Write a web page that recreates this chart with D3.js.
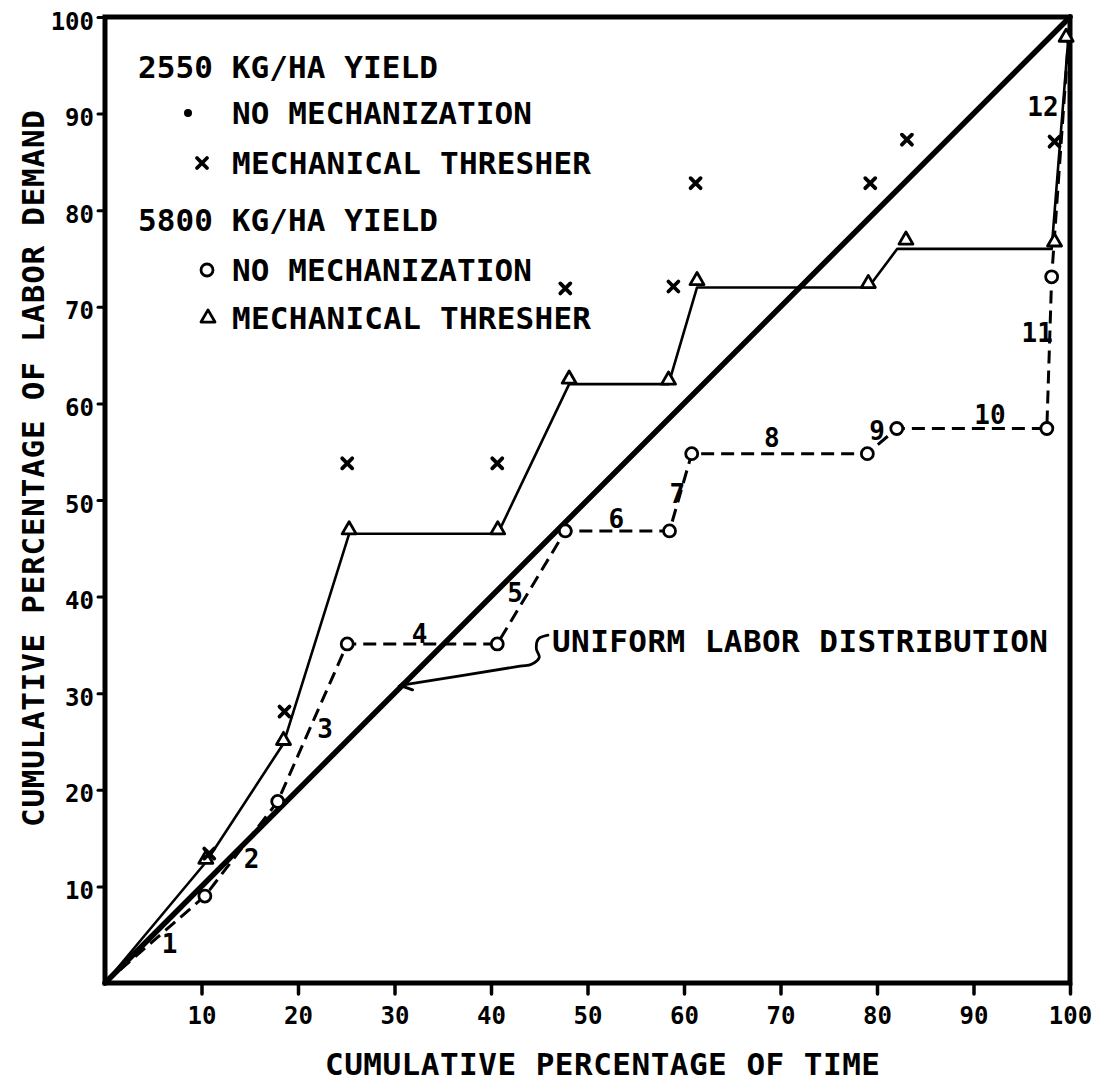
<!DOCTYPE html>
<html>
<head>
<meta charset="utf-8">
<script src="https://cdn.jsdelivr.net/npm/d3@7"></script>
<style>
  html, body { margin: 0; padding: 0; background: #fff; }
  svg { display: block; }
</style>
</head>
<body>
<svg id="chart" width="1098" height="1083"></svg>
<script>
// ---------------- DATA ----------------
const xTicks = [10, 20, 30, 40, 50, 60, 70, 80, 90, 100];
const yTicks = [10, 20, 30, 40, 50, 60, 70, 80, 90, 100];
const xTickLabels = ["10", "20", "30", "40", "50", "60", "70", "80", "90", "100"];
const yTickLabels = ["10", "20", "30", "40", "50", "60", "70", "80", "90", "100"];

// Uniform labor distribution (diagonal)
const uniformX = [0, 100];
const uniformY = [0, 100];

// 5800 kg/ha, no mechanization (open circles, dashed line)
const noMech5800X = [0, 10.35, 17.9, 25.1, 40.65, 47.7, 58.5, 60.8, 79.0, 82.05, 97.6, 98.1, 100];
const noMech5800Y = [0, 9.0, 18.8, 35.1, 35.1, 46.8, 46.8, 54.8, 54.8, 57.4, 57.4, 73.1, 100];

// 5800 kg/ha, mechanical thresher (open triangles, solid line)
const thresh5800X = [0, 10.45, 18.5, 25.3, 40.7, 48.1, 58.4, 61.35, 79.1, 82.1, 98.1, 100];
const thresh5800Y = [0, 12.5, 24.8, 46.5, 46.5, 62.0, 62.0, 72.0, 72.0, 76.0, 76.0, 100];
const thresh5800MarkX = [10.45, 18.5, 25.3, 40.7, 48.1, 58.4, 61.35, 79.1, 83.0, 98.4, 99.6];
const thresh5800MarkY = [12.5, 24.8, 46.6, 46.6, 62.2, 62.1, 72.4, 72.1, 76.6, 76.4, 97.6];

// 2550 kg/ha, mechanical thresher (x marks, no line)
const thresh2550X = [10.8, 18.6, 25.1, 40.65, 47.7, 58.9, 61.2, 79.3, 83.1, 98.4];
const thresh2550Y = [13.4, 28.1, 53.8, 53.8, 71.9, 72.1, 82.8, 82.8, 87.3, 87.1];

// Period numbers along the dashed curve
const periodLabels = ["1", "2", "3", "4", "5", "6", "7", "8", "9", "10", "11", "12"];
const periodX = [6.7, 15.2, 22.8, 32.6, 42.5, 53.0, 59.3, 69.1, 80.0, 91.7, 96.6, 97.2];
const periodY = [4.1, 12.9, 26.3, 36.2, 40.4, 48.1, 50.7, 56.5, 57.2, 58.8, 67.3, 90.7];

// Annotation arrow for the uniform line
const arrowX = [45.9, 44.9, 44.7, 45.0, 44.2, 43.0, 30.6];
const arrowY = [36.0, 35.6, 34.6, 33.7, 33.0, 32.8, 30.8];

const legendHeadings = ["2550 KG/HA YIELD", "5800 KG/HA YIELD"];
const legendItems = ["NO MECHANIZATION", "MECHANICAL THRESHER", "NO MECHANIZATION", "MECHANICAL THRESHER"];

const xTitle = "CUMULATIVE PERCENTAGE OF TIME";
const yTitle = "CUMULATIVE PERCENTAGE OF LABOR DEMAND";
const uniformLabel = "UNIFORM LABOR DISTRIBUTION";

// ---------------- DRAW ----------------
const FONT = "'DejaVu Sans Mono', 'Liberation Mono', monospace";
const svg = d3.select("#chart");
svg.append("rect").attr("width", 1098).attr("height", 1083).attr("fill", "#fff");

const x = d3.scaleLinear().domain([0, 100]).range([105, 1070]);
const y = d3.scaleLinear().domain([0, 100]).range([983, 17]);

const zip = (xs, ys) => xs.map((v, i) => [v, ys[i]]);
const line = d3.line().x(d => x(d[0])).y(d => y(d[1]));

// axes
const gx = svg.append("g").attr("transform", `translate(0,${y(0)})`)
  .call(d3.axisBottom(x).tickValues(xTicks).tickSize(11).tickPadding(13)
    .tickFormat((d, i) => xTickLabels[i]));
gx.select(".domain").remove();
gx.selectAll(".tick line").attr("stroke", "#000").attr("stroke-width", 3.5).attr("stroke-linecap", "round");
gx.selectAll(".tick text").attr("fill", "#000").style("font-family", FONT)
  .style("font-size", "24px").style("font-weight", "bold");

const gy = svg.append("g").attr("transform", `translate(${x(0)},0)`)
  .call(d3.axisLeft(y).tickValues(yTicks).tickSize(7).tickPadding(4)
    .tickFormat((d, i) => yTickLabels[i]));
gy.select(".domain").remove();
gy.selectAll(".tick line").attr("stroke", "#000").attr("stroke-width", 3).attr("stroke-linecap", "round");
gy.selectAll(".tick text").attr("fill", "#000").attr("dy", "0.5em").style("font-family", FONT)
  .style("font-size", "24px").style("font-weight", "bold");

// frame
svg.append("rect")
  .attr("x", x(0)).attr("y", y(100))
  .attr("width", x(100) - x(0)).attr("height", y(0) - y(100))
  .attr("fill", "none").attr("stroke", "#000").attr("stroke-width", 5);

// uniform diagonal
svg.append("path").datum(zip(uniformX, uniformY)).attr("d", line)
  .attr("fill", "none").attr("stroke", "#000").attr("stroke-width", 5.5).attr("stroke-linecap", "round");

// dashed no-mech 5800
svg.append("path").datum(zip(noMech5800X, noMech5800Y)).attr("d", line)
  .attr("fill", "none").attr("stroke", "#000").attr("stroke-width", 3)
  .attr("stroke-dasharray", "13,7");

// solid thresher 5800
svg.append("path").datum(zip(thresh5800X, thresh5800Y)).attr("d", line)
  .attr("fill", "none").attr("stroke", "#000").attr("stroke-width", 2.6)
  .attr("stroke-linejoin", "round");

// markers
const tri = d3.symbol().type(d3.symbolTriangle).size(85);
function drawTriangle(g, cx, cy) {
  g.append("path").attr("d", tri()).attr("transform", `translate(${cx},${cy - 3})`)
    .attr("fill", "#fff").attr("stroke", "#000").attr("stroke-width", 2.8).attr("stroke-linejoin", "round");
}
function drawCircle(g, cx, cy) {
  g.append("circle").attr("cx", cx).attr("cy", cy).attr("r", 6)
    .attr("fill", "#fff").attr("stroke", "#000").attr("stroke-width", 2.8);
}
function drawX(g, cx, cy) {
  const s = 5;
  g.append("path").attr("d", `M${cx - s},${cy - s}L${cx + s},${cy + s}M${cx - s},${cy + s}L${cx + s},${cy - s}`)
    .attr("stroke", "#000").attr("stroke-width", 3.8).attr("stroke-linecap", "round");
}

const mk = svg.append("g");
noMech5800X.forEach((v, i) => {
  if (i === 0 || i === noMech5800X.length - 1) return;
  drawCircle(mk, x(v), y(noMech5800Y[i]));
});
thresh5800MarkX.forEach((v, i) => drawTriangle(mk, x(v), y(thresh5800MarkY[i])));
thresh2550X.forEach((v, i) => drawX(mk, x(v), y(thresh2550Y[i])));

// period numbers
svg.append("g").selectAll("text").data(periodLabels).join("text")
  .attr("x", (d, i) => x(periodX[i])).attr("y", (d, i) => y(periodY[i]))
  .attr("dy", "0.36em").attr("text-anchor", "middle")
  .style("font-family", FONT).style("font-size", "26px").style("font-weight", "bold")
  .text(d => d);

// uniform annotation + arrow
const arrowPts = zip(arrowX, arrowY);
svg.append("path").datum(arrowPts)
  .attr("d", d3.line().x(d => x(d[0])).y(d => y(d[1])).curve(d3.curveCatmullRom))
  .attr("fill", "none").attr("stroke", "#000").attr("stroke-width", 2.8).attr("stroke-linecap", "round");
{
  const p1 = arrowPts[arrowPts.length - 2], p2 = arrowPts[arrowPts.length - 1];
  const tx = x(p2[0]), ty = y(p2[1]);
  const ang = Math.atan2(y(p1[1]) - ty, x(p1[0]) - tx);
  const L = 13, a = 0.5;
  svg.append("path")
    .attr("d", `M${tx + L * Math.cos(ang + a)},${ty + L * Math.sin(ang + a)}L${tx},${ty}L${tx + L * Math.cos(ang - a)},${ty + L * Math.sin(ang - a)}`)
    .attr("fill", "none").attr("stroke", "#000").attr("stroke-width", 3).attr("stroke-linecap", "round");
}
svg.append("text").attr("x", 552).attr("y", 652)
  .attr("textLength", 496).attr("lengthAdjust", "spacing")
  .style("font-family", FONT).style("font-size", "31px").style("font-weight", "bold")
  .text(uniformLabel);

// legend
const lg = svg.append("g").style("font-family", FONT).style("font-size", "31px").style("font-weight", "bold");
lg.append("text").attr("x", 138).attr("y", 78).attr("textLength", 300).attr("lengthAdjust", "spacing").text(legendHeadings[0]);
lg.append("circle").attr("cx", 188).attr("cy", 113).attr("r", 4);
lg.append("text").attr("x", 232).attr("y", 124).attr("textLength", 300).attr("lengthAdjust", "spacing").text(legendItems[0]);
drawX(lg, 202, 163);
lg.append("text").attr("x", 232).attr("y", 174).attr("textLength", 359).attr("lengthAdjust", "spacing").text(legendItems[1]);
lg.append("text").attr("x", 138).attr("y", 231).attr("textLength", 300).attr("lengthAdjust", "spacing").text(legendHeadings[1]);
drawCircle(lg, 207, 270);
lg.append("text").attr("x", 232).attr("y", 281).attr("textLength", 300).attr("lengthAdjust", "spacing").text(legendItems[2]);
drawTriangle(lg, 208, 321);
lg.append("text").attr("x", 232).attr("y", 329).attr("textLength", 359).attr("lengthAdjust", "spacing").text(legendItems[3]);

// axis titles
svg.append("text").attr("x", 325).attr("y", 1075)
  .attr("textLength", 555).attr("lengthAdjust", "spacing")
  .style("font-family", FONT).style("font-size", "31px").style("font-weight", "bold")
  .text(xTitle);
svg.append("text").attr("transform", "translate(44,827) rotate(-90)")
  .attr("textLength", 717).attr("lengthAdjust", "spacing")
  .style("font-family", FONT).style("font-size", "31px").style("font-weight", "bold")
  .text(yTitle);
</script>
</body>
</html>
